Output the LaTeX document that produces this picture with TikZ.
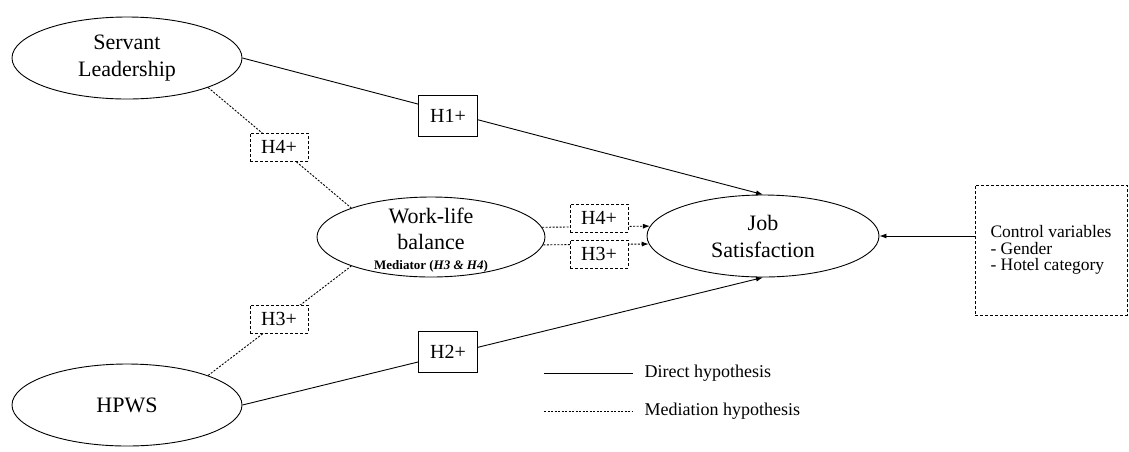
\documentclass[tikz,border=0pt]{standalone}
\usepackage{fontspec}
\setmainfont{Liberation Serif}
\usetikzlibrary{shapes.geometric,arrows.meta}

\tikzset{
construct/.style={draw, ellipse, line width=0.9pt, minimum width=230pt, minimum height=82pt, inner sep=0pt, align=center, font=\fontsize{22}{27}\selectfont},
hypdirect/.style={draw, fill=white, line width=0.9pt, minimum width=59pt, minimum height=41pt, inner sep=0pt, font=\fontsize{20}{22}\selectfont},
hypmed/.style={draw, fill=white, line width=0.9pt, dash pattern=on 3pt off 2pt, minimum width=58pt, minimum height=28pt, inner sep=0pt, font=\fontsize{20}{22}\selectfont},
direct/.style={line width=0.9pt},
mediation/.style={line width=0.9pt, dash pattern=on 2pt off 1.5pt},
tip/.style={-{Latex[length=7pt,width=5pt]}}
}

\begin{document}
\begin{tikzpicture}[x=1pt,y=-1pt]
\useasboundingbox (0,0) rectangle (1129,451);
\node[construct] (sl) at (127,58) {Servant\\Leadership};
\node[construct] (hpws) at (127,405) {HPWS};
\node[construct, minimum width=228pt, minimum height=80pt] (wlb) at (431,237) {};
\node[align=center, inner sep=0pt, font=\fontsize{22}{26}\selectfont] (wlbtext) at (431,240) {Work-life\\balance\\[-6pt]{\fontsize{13}{14}\selectfont\bfseries Mediator (\textit{H3 \& H4})}};
\node[construct, minimum width=232pt] (job) at (763,236) {Job\\Satisfaction};
\node[draw, line width=0.9pt, dash pattern=on 3pt off 2pt, minimum width=152pt, minimum height=130pt, align=left, font=\fontsize{17.5}{16.5}\selectfont] (ctrl) at (1051,250) {Control variables\\- Gender\\- Hotel category};

\draw[direct,tip] (sl.east) -- (job.north);
\draw[direct,tip] (hpws.east) -- (job.south);
\draw[mediation] (sl.-20) -- (wlb.160);
\draw[mediation] (hpws.20) -- (wlb.200);
\draw[mediation,tip] (wlb.5) -- (job.175);
\draw[mediation,tip] (wlb.-4) -- (job.184);
\draw[direct,tip] (ctrl.west |- job.east) -- (job.east);

\node[hypdirect] (h1) at (448,116) {H1+};
\node[hypdirect] (h2) at (448,352) {H2+};
\node[hypmed] (h4a) at (279,147) {H4+};
\node[hypmed] (h3a) at (279,319) {H3+};
\node[hypmed] (h4b) at (599,218) {H4+};
\node[hypmed] (h3b) at (599,254) {H3+};

\coordinate (ldirect) at (544,373);
\coordinate (lmed) at (544,411);
\node[anchor=west, font=\fontsize{18}{20}\selectfont] (tdirect) at (641,373) {Direct hypothesis};
\node[anchor=west, font=\fontsize{18}{20}\selectfont] (tmed) at (641,411) {Mediation hypothesis};
\draw[direct] (ldirect) -- (tdirect.west -| 633,0);
\draw[mediation] (lmed) -- (tmed.west -| 633,0);
\end{tikzpicture}
\end{document}
